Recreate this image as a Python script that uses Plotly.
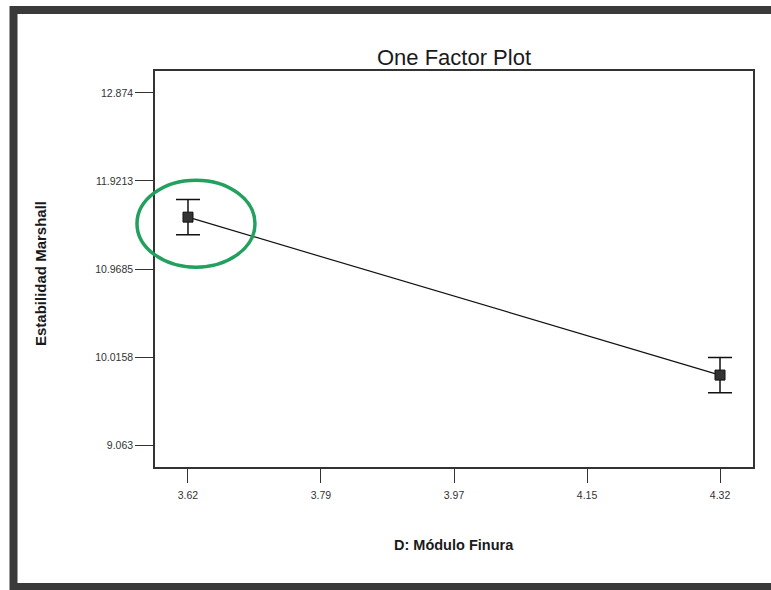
import plotly.graph_objects as go

# ---- data ----
x_levels = [3.62, 4.32]
y_means = [11.53, 9.82]
y_err = [0.19, 0.19]

x_tickvals = [3.62, 3.795, 3.97, 4.145, 4.32]
x_ticktext = ["3.62", "3.79", "3.97", "4.15", "4.32"]
y_tickvals = [9.063, 10.0158, 10.9685, 11.9213, 12.874]
y_ticktext = ["9.063", "10.0158", "10.9685", "11.9213", "12.874"]

x_range = [3.5766, 4.3634]
y_range = [8.825, 13.112]

title_text = "One Factor Plot"
x_title = "D: Módulo Finura"
y_title = "Estabilidad Marshall"

W, H = 771, 590
ML, MR, MT, MB = 155, 18, 71, 123
FONT = "Liberation Sans, Arial, sans-serif"

fig = go.Figure()
fig.add_trace(go.Scatter(
    x=x_levels, y=y_means, mode="lines+markers",
    line=dict(color="#111111", width=1.2),
    marker=dict(symbol="square", size=10, color="#333333",
                line=dict(color="#111111", width=1)),
    error_y=dict(type="data", array=y_err, visible=True,
                 color="#111111", thickness=1.5, width=12),
    showlegend=False, hoverinfo="skip",
))

fig.update_layout(
    width=W, height=H,
    margin=dict(l=ML, r=MR, t=MT, b=MB, pad=0),
    paper_bgcolor="white", plot_bgcolor="white",
    font=dict(family=FONT, color="#222222"),
    title=dict(text=title_text, x=(ML + (W - ML - MR) / 2) / W, xanchor="center",
               y=1 - 57 / H, yanchor="middle", yref="container",
               font=dict(size=22, color="#1a1a1a", family=FONT)),
)
fig.update_xaxes(
    range=x_range, tickvals=x_tickvals, ticktext=x_ticktext,
    showgrid=False, zeroline=False,
    showline=True, linecolor="#333333", linewidth=1.5, mirror=True,
    ticks="outside", ticklen=14, tickwidth=1.2, tickcolor="#333333",
    ticklabelstandoff=4,
    tickfont=dict(size=10.5, color="#333333", family=FONT),
)
fig.update_yaxes(
    range=y_range, tickvals=y_tickvals, ticktext=y_ticktext,
    showgrid=False, zeroline=False,
    showline=True, linecolor="#333333", linewidth=1.5, mirror=True,
    ticks="outside", ticklen=18, tickwidth=1.2, tickcolor="#333333",
    tickfont=dict(size=10.5, color="#333333", family=FONT),
)

# axis titles
fig.add_annotation(text="<b>" + y_title + "</b>", xref="paper", yref="paper", x=0, y=0.5,
                   xshift=-115, yshift=-5, textangle=-90, showarrow=False,
                   font=dict(size=15, color="#1a1a1a", family=FONT),
                   xanchor="center", yanchor="middle")
fig.add_annotation(text="<b>" + x_title + "</b>", xref="paper", yref="paper",
                   x=0.5, y=0, yshift=-78, showarrow=False,
                   font=dict(size=14.5, color="#1a1a1a", family=FONT),
                   xanchor="center", yanchor="middle")

# green highlight ellipse around the first point (positioned relative to it)
fx = (x_levels[0] - x_range[0]) / (x_range[1] - x_range[0])
fy = (y_means[0] - y_range[0]) / (y_range[1] - y_range[0])
fig.add_shape(type="circle", xref="x domain", yref="y domain",
              xsizemode="pixel", ysizemode="pixel", xanchor=fx, yanchor=fy,
              x0=-51, x1=67, y0=-50, y1=37,
              line=dict(color="#22a05e", width=3.5), layer="above")

# outer dark frame of the scanned figure
fig.add_shape(type="rect", xref="paper", yref="paper",
              xsizemode="pixel", ysizemode="pixel", xanchor=0, yanchor=0,
              x0=13.5 - ML, x1=790 - ML, y0=-(587 - (H - MB)), y1=(H - MB) - 10,
              line=dict(color="#3a3a3a", width=8), layer="above")

fig.write_html("out.html")
